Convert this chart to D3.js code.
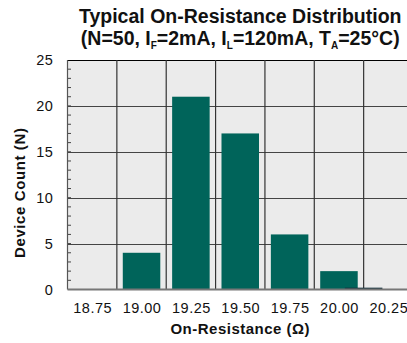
<!DOCTYPE html>
<html><head><meta charset="utf-8">
<script src="https://cdn.jsdelivr.net/npm/d3@7"></script>
<style>
body{margin:0;background:#fff;}
svg{display:block;font-family:"Liberation Sans",Arial,Helvetica,sans-serif;}
</style></head>
<body><svg id="c" width="407" height="343"></svg>
<script>
// Data
const categories = [18.75, 19.00, 19.25, 19.50, 19.75, 20.00, 20.25];
const tickLabels = ["18.75","19.00","19.25","19.50","19.75","20.00","20.25"];
const counts = [0, 4, 21, 17, 6, 2, 0];
const extraBinCenters = [20.125];
const extraBinCounts = [0.2];
const yTicks = [0, 5, 10, 15, 20, 25];

const svg = d3.select("#c");
const L = 67.5, R = 413, T = 60, B = 289.5;
const step = 0.25;
const x = d3.scaleLinear().domain([categories[0]-step/2, categories[categories.length-1]+step/2]).range([L, R]);
const y = d3.scaleLinear().domain([0, 25]).range([B, T]);

// background
svg.append("rect").attr("x", L).attr("y", T).attr("width", R-L).attr("height", B-T).attr("fill", "#ebebeb");

// horizontal gridlines
svg.append("g").selectAll("line").data(yTicks.filter(d => d > 0)).join("line")
  .attr("x1", L).attr("x2", R).attr("y1", d => Math.round(y(d))+0.5).attr("y2", d => Math.round(y(d))+0.5)
  .attr("stroke", d => d === 25 ? "#000" : "#444").attr("stroke-width", d => d===25?1.2:1);

// vertical gridlines (bin boundaries)
const bounds = categories.slice(0, -1).map(c => c + step/2);
svg.append("g").selectAll("line").data(bounds).join("line")
  .attr("x1", d => x(d)).attr("x2", d => x(d)).attr("y1", T).attr("y2", B)
  .attr("stroke", "#333").attr("stroke-width", 1.2);

// minor y ticks
svg.append("g").selectAll("line").data(d3.range(1, 25)).join("line")
  .attr("x1", L).attr("x2", L+3.5).attr("y1", d => y(d)).attr("y2", d => y(d))
  .attr("stroke", "#444").attr("stroke-width", 1);

// bars
const bw = 0.19;
svg.append("g").selectAll("rect").data(categories.map((c,i)=>({c, v:counts[i]})).filter(d=>d.v>0)).join("rect")
  .attr("x", d => x(d.c - bw/2)).attr("width", d => x(d.c + bw/2) - x(d.c - bw/2))
  .attr("y", d => y(d.v)).attr("height", d => y(0) - y(d.v))
  .attr("fill", "#00645a");
svg.append("g").selectAll("rect").data(extraBinCenters.map((c,i)=>({c, v:extraBinCounts[i]}))).join("rect")
  .attr("x", d => x(d.c - bw/2)).attr("width", d => x(d.c + bw/2) - x(d.c - bw/2))
  .attr("y", d => y(d.v)).attr("height", d => y(0) - y(d.v))
  .attr("fill", "#12303c");

// left axis line & bottom axis line
svg.append("line").attr("x1", L).attr("x2", L).attr("y1", T).attr("y2", B).attr("stroke", "#555").attr("stroke-width", 1.2);
svg.append("line").attr("x1", L).attr("x2", R).attr("y1", B).attr("y2", B).attr("stroke", "#777").attr("stroke-width", 2);

// y tick labels
const yAxis = d3.axisLeft(y).tickValues(yTicks).tickSize(0).tickPadding(14);
const gy = svg.append("g").attr("transform", `translate(${L},0)`).call(yAxis);
gy.select(".domain").remove();
gy.selectAll("text").attr("font-size", 14.5).attr("letter-spacing", 0.6).attr("fill", "#111").attr("font-family", "Liberation Sans, Arial, sans-serif");

// x tick labels
const xAxis = d3.axisBottom(x).tickValues(categories).tickFormat((d,i)=>tickLabels[i]).tickSize(0).tickPadding(13);
const gx = svg.append("g").attr("transform", `translate(0,${B})`).call(xAxis);
gx.select(".domain").remove();
gx.selectAll("text").attr("font-size", 14.5).attr("letter-spacing", 0.5).attr("fill", "#111").attr("font-family", "Liberation Sans, Arial, sans-serif");

// axis titles
svg.append("text").attr("x", (L+R)/2).attr("y", 334).attr("text-anchor", "middle")
  .attr("font-size", 15).attr("letter-spacing", 0.5).attr("font-weight", "bold").attr("fill", "#111").text("On-Resistance (Ω)");
svg.append("text").attr("transform", `translate(25,${(T+B)/2+18}) rotate(-90)`).attr("text-anchor", "middle")
  .attr("font-size", 15).attr("letter-spacing", 0.6).attr("font-weight", "bold").attr("fill", "#111").text("Device Count (N)");

// title
const cx = (L+R)/2;
svg.append("text").attr("x", cx).attr("y", 23).attr("text-anchor", "middle")
  .attr("font-size", 19.5).attr("font-weight", "bold").attr("fill", "#111").text("Typical On-Resistance Distribution");
const t2 = svg.append("text").attr("x", cx).attr("y", 45).attr("text-anchor", "middle")
  .attr("font-size", 19.5).attr("font-weight", "bold").attr("fill", "#111");
const parts = [["(N=50, I",0],["F",1],["=2mA, I",0],["L",1],["=120mA, T",0],["A",1],["=25°C)",0]];
parts.forEach(([s,sub], i) => {
  const ts = t2.append("tspan").text(s);
  if (sub) ts.attr("font-size", 10).attr("dy", 4);
  else ts.attr("dy", i > 0 ? -4 : 0);
});
</script></body></html>
